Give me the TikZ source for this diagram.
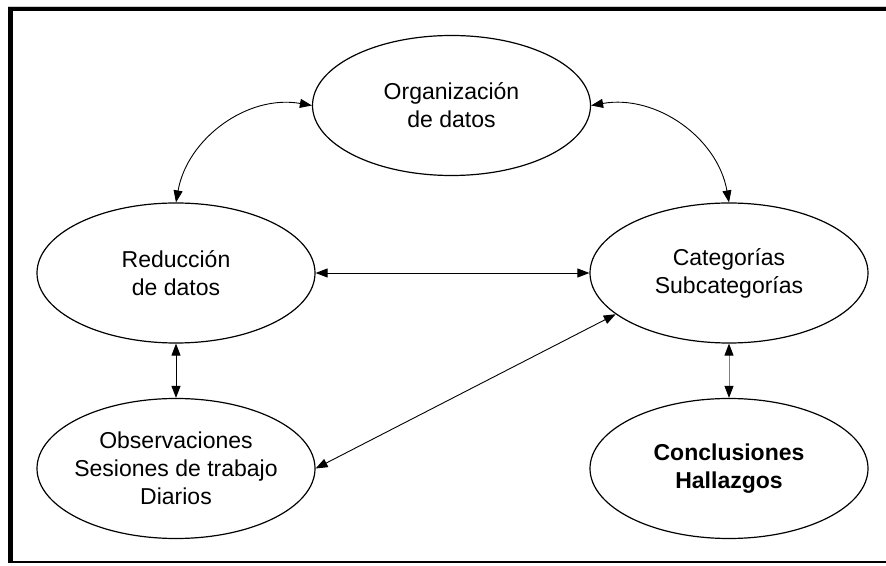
\documentclass[tikz,border=0pt]{standalone}
\usepackage{fontspec}
\setmainfont{Liberation Sans}
\usetikzlibrary{shapes.geometric,arrows.meta}

\begin{document}
\begin{tikzpicture}[x=1pt,y=1pt,
	elipse/.style={ellipse,draw,line width=1.2pt,minimum width=278pt,minimum height=140pt,
		inner sep=0pt,align=center,font=\fontsize{23}{28}\selectfont},
	flecha/.style={{Triangle[length=12pt,width=9pt,color=black]}-{Triangle[length=12pt,width=9pt,color=black]},
		line width=0.9pt}]
  %marco
	\useasboundingbox (0,0) rectangle (886,565);
	\draw[gray!40,line width=0.8pt] (8,559) -- (886,559);
	\draw[line width=4.5pt,line join=miter] (10.3,3) -- (10.3,556) -- (886,556);
	\draw[line width=1.2pt] (8,3) -- (886,3);

  %elipses
	\node[elipse] (org) at (451.5,459.5) {Organización\\de datos};
	\node[elipse] (red) at (176,292) {Reducción\\de datos};
	\node[elipse] (cat) at (729,292) {Categorías\\Subcategorías};
	\node[elipse,inner xsep=-6pt] (obs) at (176,96.5) {Observaciones\\Sesiones de trabajo\\Diarios};
	\node[elipse,font=\fontsize{23}{28}\selectfont\bfseries] (con) at (729,96.5) {Conclusiones\\Hallazgos};

  %flechas
	\draw[flecha] (org.west) to[out=170,in=80] (red.north);
	\draw[flecha] (org.east) to[out=10,in=100] (cat.north);
	\draw[flecha] (red.east) -- (cat.west);
	\draw[flecha] (red.south) -- (obs.north);
	\draw[flecha,draw=gray] (cat.south) -- (con.north);
	\draw[flecha] (obs.east) -- (cat.200);
\end{tikzpicture}
\end{document}
